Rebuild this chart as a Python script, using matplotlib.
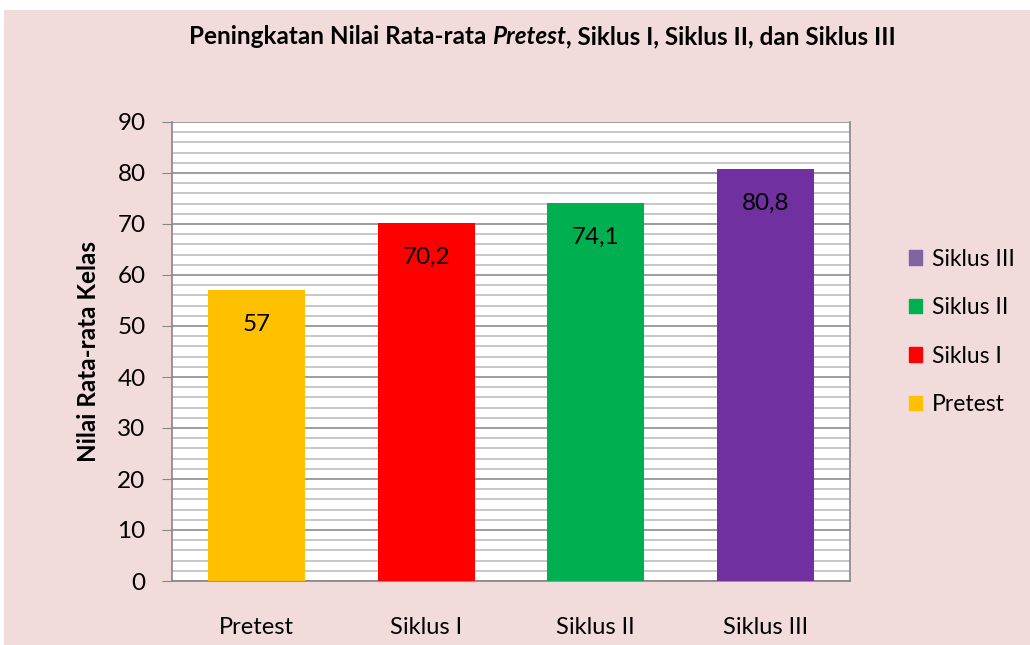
import matplotlib.pyplot as plt
import matplotlib.patches as mpatches
import numpy as np

# data
categories = ["Pretest", "Siklus I", "Siklus II", "Siklus III"]
values = [57, 70.2, 74.1, 80.8]
value_labels = ["57", "70,2", "74,1", "80,8"]
bar_colors = ["#FFC000", "#FF0000", "#00B050", "#7030A0"]
legend_colors = ["#FFC000", "#FF0000", "#00B050", "#8064A2"]

title_parts = [("Peningkatan Nilai Rata-rata ", "normal"),
               ("Pretest", "italic"),
               (", Siklus I, Siklus II, dan Siklus III", "normal")]

plt.rcParams["font.family"] = ["Lato", "DejaVu Sans"]

fig = plt.figure(figsize=(10.3, 6.45), dpi=100)
fig.patch.set_facecolor("white")
# pink chart area (thin white band at the top and left)
fig.patches.append(mpatches.Rectangle((4 / 1030, 0), 1, 1 - 10 / 645,
                                      transform=fig.transFigure,
                                      facecolor="#F2DCDB", edgecolor="none",
                                      zorder=-10))

ax = fig.add_axes([172 / 1030, 1 - 581 / 645, 678 / 1030, 459 / 645])
ax.set_facecolor("white")

x = np.arange(len(categories))
ax.bar(x, values, width=0.57, color=bar_colors, zorder=3)

for xi, v, lab in zip(x, values, value_labels):
    ax.text(xi, v - 6.8, lab, ha="center", va="center", fontsize=17.5, zorder=4)

ax.set_xlim(-0.5, 3.5)
ax.set_ylim(0, 90)
ax.set_yticks(np.arange(0, 91, 10))
ax.set_yticks(np.arange(0, 91, 2), minor=True)
ax.grid(axis="y", which="major", color="#8C8C8C", linewidth=1.2, zorder=0)
ax.grid(axis="y", which="minor", color="#BFBFBF", linewidth=1.2, zorder=0)
ax.set_axisbelow(True)

ax.set_xticks(x)
ax.set_xticklabels(categories, fontsize=17)
ax.tick_params(axis="x", length=0, pad=26)
ax.tick_params(axis="y", which="major", length=7, color="#868686",
               labelsize=17.5, pad=12)
ax.tick_params(axis="y", which="minor", length=0)

for side in ["left", "bottom", "right", "top"]:
    ax.spines[side].set_color("#868686")
    ax.spines[side].set_linewidth(1.2)
ax.spines["top"].set_visible(False)

fig.text(88 / 1030, 1 - 352 / 645, "Nilai Rata-rata Kelas", rotation=90,
         ha="center", va="center", fontsize=17.5, fontweight="bold")

# title: bold with an italic word, drawn piece by piece
fig.canvas.draw()
renderer = fig.canvas.get_renderer()
pieces = []
total_w = 0
for txt, style in title_parts:
    t = fig.text(0, 1 - 37 / 645, txt, ha="left", va="center",
                 fontsize=17.5, fontweight="bold", style=style)
    w = t.get_window_extent(renderer).width
    pieces.append((t, w))
    total_w += w
x_px = 542 - total_w / 2
for t, w in pieces:
    t.set_x(x_px / 1030)
    x_px += w

handles = [mpatches.Patch(color=c, label=l)
           for c, l in zip(legend_colors[::-1], categories[::-1])]
fig.legend(handles=handles, loc="center left",
           bbox_to_anchor=(888 / 1030, 1 - 332 / 645), frameon=False,
           fontsize=16.5, handlelength=0.6, handleheight=0.6,
           labelspacing=1.2, handletextpad=0.4)

fig.savefig("out.png", dpi=100, facecolor=fig.get_facecolor())
